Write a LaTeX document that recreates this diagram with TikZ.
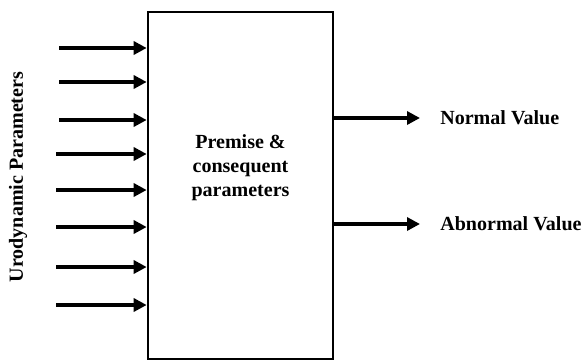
\documentclass[tikz,border=0pt]{standalone}
\usepackage{fontspec}
\setmainfont{Liberation Serif}
\usetikzlibrary{arrows.meta}

\tikzset{
  bigarrow/.style={line width=2.3pt,-{Triangle[length=0.26cm,width=0.26cm]}},
  boldtext/.style={font=\fontsize{11.4}{13.7}\selectfont\bfseries},
  valtext/.style={boldtext,anchor=west,inner xsep=0.4cm,inner ysep=0pt}
}

\begin{document}
\begin{tikzpicture}
        \useasboundingbox (0,0) rectangle (11.72,-7.24);

        \node[draw,line width=1.5pt,minimum width=3.7cm,minimum height=6.94cm,inner sep=0pt] (proc) at (4.81,-3.71) {};
        \node[boldtext,align=center] (premise) at (4.81,-3.36) {Premise \&\\consequent\\parameters};

        \node[boldtext,rotate=90] (uro) at (0.36,-3.54) {Urodynamic Parameters};

        \coordinate (A) at (1.18,-0.96);
        \coordinate (B) at (1.18,-1.64);
        \coordinate (C) at (1.18,-2.40);
        \coordinate (D) at (1.12,-3.08);
        \coordinate (E) at (1.12,-3.80);
        \coordinate (F) at (1.12,-4.54);
        \coordinate (G) at (1.12,-5.34);
        \coordinate (H) at (1.12,-6.10);

        \draw[bigarrow] (A) -- (A -| proc.west);
        \draw[bigarrow] (B) -- (B -| proc.west);
        \draw[bigarrow] (C) -- (C -| proc.west);
        \draw[bigarrow] (D) -- (D -| proc.west);
        \draw[bigarrow] (E) -- (E -| proc.west);
        \draw[bigarrow] (F) -- (F -| proc.west);
        \draw[bigarrow] (G) -- (G -| proc.west);
        \draw[bigarrow] (H) -- (H -| proc.west);

        %and the two outputs on the right
        \node[valtext] (normal) at (8.4,-2.36) {Normal Value};
        \node[valtext] (abnormal) at (8.4,-4.48) {Abnormal Value};

        \draw[bigarrow] (proc.east |- normal.west) -- (normal.west);
        \draw[bigarrow] (proc.east |- abnormal.west) -- (abnormal.west);

       \end{tikzpicture}
\end{document}
